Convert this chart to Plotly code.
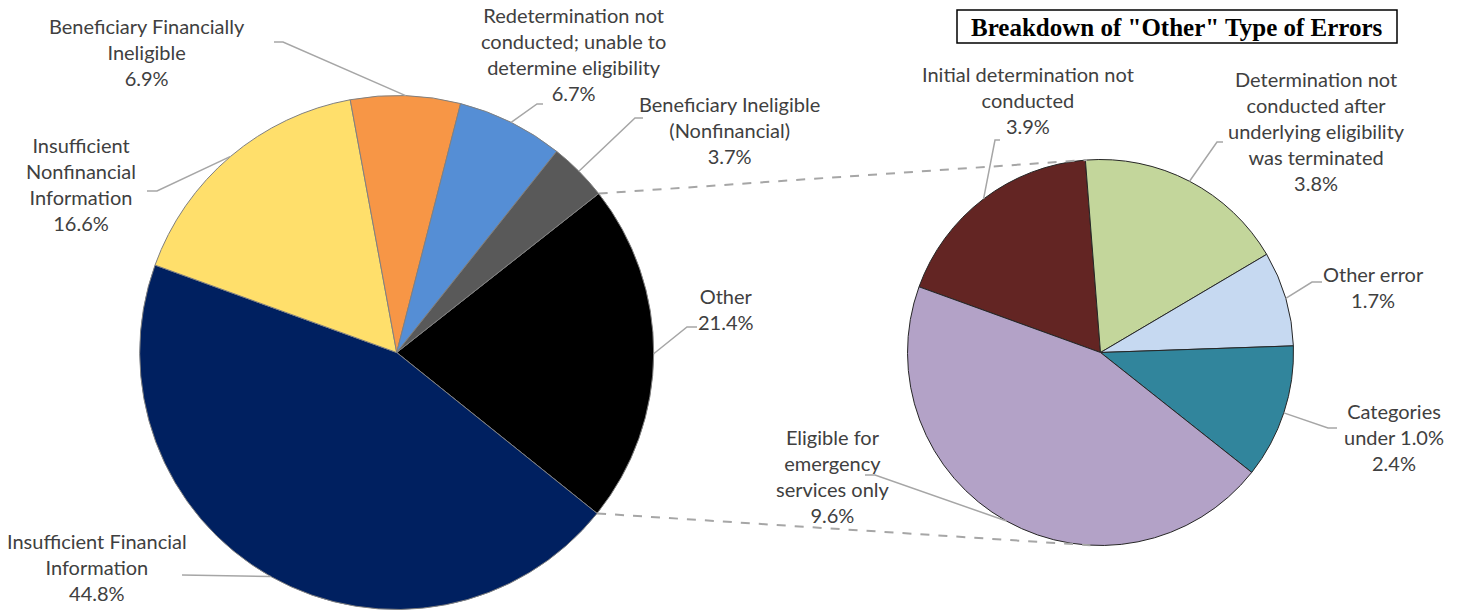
import math
import plotly.graph_objects as go

# ---- data -------------------------------------------------------------
main_names = [
    "Other",
    "Insufficient Financial Information",
    "Insufficient Nonfinancial Information",
    "Beneficiary Financially Ineligible",
    "Redetermination not conducted; unable to determine eligibility",
    "Beneficiary Ineligible (Nonfinancial)",
]
main_label_lines = [
    "Other",
    "Insufficient Financial<br>Information",
    "Insufficient<br>Nonfinancial<br>Information",
    "Beneficiary Financially<br>Ineligible",
    "Redetermination not<br>conducted; unable to<br>determine eligibility",
    "Beneficiary Ineligible<br>(Nonfinancial)",
]
main_values = [21.4, 44.8, 16.6, 6.9, 6.7, 3.7]
main_colors = ["#000000", "#002060", "#FFDF6B", "#F79646", "#558ED5", "#595959"]

other_names = [
    "Initial determination not conducted",
    "Determination not conducted after underlying eligibility was terminated",
    "Other error",
    "Categories under 1.0%",
    "Eligible for emergency services only",
]
other_label_lines = [
    "Initial determination not<br>conducted",
    "Determination not<br>conducted after<br>underlying eligibility<br>was terminated",
    "Other error",
    "Categories<br>under 1.0%",
    "Eligible for<br>emergency<br>services only",
]
other_values = [3.9, 3.8, 1.7, 2.4, 9.6]
other_colors = ["#632523", "#C3D69B", "#C6D9F1", "#31859C", "#B3A2C7"]

title_text = 'Breakdown of "Other" Type of Errors'

# ---- layout geometry (pixels, y measured downward) -----------------------
W, H = 1463, 613
LEFT_C, LEFT_R, LEFT_ROT = (396.7, 352.5), 257, 51.8
RIGHT_C, RIGHT_R, RIGHT_ROT = (1100.5, 352.5), 193, -70.1

# label centres and leader-line elbows for each slice
main_label_pos = [(726, 309), (97, 567), (81, 184), (147, 52), (573, 54), (729, 130)]
main_leader = [
    [(697, 327), (687, 327)],
    [(182, 575)],
    [(147, 191), (157, 191)],
    [(274, 42), (283, 42)],
    [(543, 104), (537, 104)],
    [(643, 118), (635, 118)],
]
other_label_pos = [(1028, 100), (1316, 131), (1373, 287), (1394, 437), (833, 476)]
other_leader = [
    [(1000, 140), (995, 140)],
    [(1223, 142), (1217, 142)],
    [(1322, 282), (1312, 282)],
    [(1337, 428), (1328, 428)],
    [(865, 475), (875, 475)],
]

LABEL_FONT = dict(family="Lato, 'Open Sans', sans-serif", size=20, color="#404040")
LEADER = dict(color="#A6A6A6", width=1.5)


def px(x):
    return x / W


def py(y):
    return 1 - y / H


def domain(center, r):
    cx, cy = center
    return dict(x=[px(cx - r), px(cx + r)], y=[py(cy + r), py(cy - r)])


def edge_point(center, r, angle_deg):
    a = math.radians(angle_deg)
    return (center[0] + r * math.sin(a), center[1] - r * math.cos(a))


def slice_angles(values, rotation):
    total = sum(values)
    out, cum = [], 0.0
    for v in values:
        start = rotation + 360 * cum / total
        cum += v
        end = rotation + 360 * cum / total
        out.append((start, (start + end) / 2, end))
    return out


fig = go.Figure()

fig.add_trace(go.Pie(
    labels=main_names, values=main_values, sort=False, direction="clockwise",
    rotation=LEFT_ROT, domain=domain(LEFT_C, LEFT_R),
    marker=dict(colors=main_colors, line=dict(color="#808080", width=1)),
    textinfo="none", hoverinfo="label+percent", showlegend=False,
))
fig.add_trace(go.Pie(
    labels=other_names, values=other_values, sort=False, direction="clockwise",
    rotation=RIGHT_ROT, domain=domain(RIGHT_C, RIGHT_R),
    marker=dict(colors=other_colors, line=dict(color="#262626", width=1)),
    textinfo="none", hoverinfo="label+value", showlegend=False,
))

shapes, annotations = [], []


def add_labels(names_lines, values, positions, leaders, center, r, rotation):
    for lines, val, pos, elbow, ang in zip(names_lines, values, positions, leaders,
                                           slice_angles(values, rotation)):
        annotations.append(dict(
            x=px(pos[0]), y=py(pos[1]), xref="paper", yref="paper",
            text=f"{lines}<br>{val:.1f}%", showarrow=False,
            xanchor="center", yanchor="middle", align="center", font=LABEL_FONT,
        ))
        pts = elbow + [edge_point(center, r, ang[1])]
        path = "M " + " L ".join(f"{px(x):.5f},{py(y):.5f}" for x, y in pts)
        shapes.append(dict(type="path", path=path, xref="paper", yref="paper",
                           line=LEADER))


add_labels(main_label_lines, main_values, main_label_pos, main_leader,
           LEFT_C, LEFT_R, LEFT_ROT)
add_labels(other_label_lines, other_values, other_label_pos, other_leader,
           RIGHT_C, RIGHT_R, RIGHT_ROT)

# dashed connectors from the "Other" slice edges to the secondary pie
other_slice = slice_angles(main_values, LEFT_ROT)[0]
top_start = edge_point(LEFT_C, LEFT_R, other_slice[0])
bot_start = edge_point(LEFT_C, LEFT_R, other_slice[2])
top_end = edge_point(RIGHT_C, RIGHT_R, -4.0)
bot_end = edge_point(RIGHT_C, RIGHT_R, 183.0)
for a, b in [(top_start, top_end), (bot_start, bot_end)]:
    shapes.append(dict(type="line", xref="paper", yref="paper",
                       x0=px(a[0]), y0=py(a[1]), x1=px(b[0]), y1=py(b[1]),
                       line=dict(color="#A6A6A6", width=2, dash="dash")))

# boxed title over the secondary pie
shapes.append(dict(type="rect", xref="paper", yref="paper",
                   x0=px(957), x1=px(1397), y0=py(43), y1=py(10),
                   line=dict(color="#000000", width=1.5), fillcolor="white"))
annotations.append(dict(
    x=px(1177), y=py(27), xref="paper", yref="paper", showarrow=False,
    text=f"<b>{title_text}</b>", xanchor="center", yanchor="middle",
    font=dict(family="'Liberation Serif', 'Times New Roman', serif", size=25,
              color="#000000"),
))

fig.update_layout(
    width=W, height=H, margin=dict(l=0, r=0, t=0, b=0),
    paper_bgcolor="white", plot_bgcolor="white",
    shapes=shapes, annotations=annotations,
)

fig.write_html("out.html")
